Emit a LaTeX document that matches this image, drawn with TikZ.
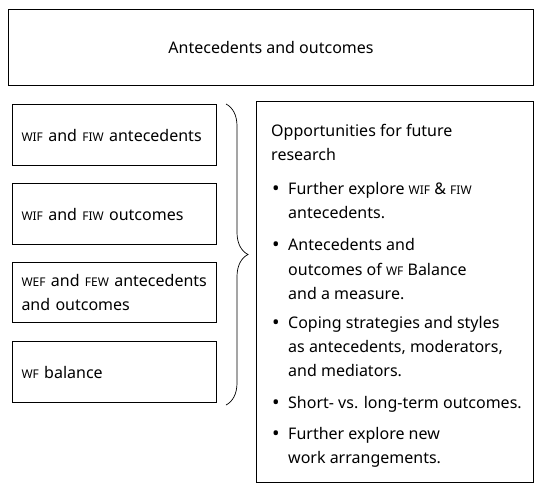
\documentclass[tikz,border=0pt]{standalone}
\usepackage{fontspec}
\setmainfont{Noto Sans}
\usetikzlibrary{decorations.pathreplacing,calc}
\newcommand\smc[1]{{\fontsize{12}{12}\selectfont #1}}
\hyphenpenalty=10000
\begin{document}
\begin{tikzpicture}[x=1pt,y=-1pt,
  box/.style={draw,line width=1pt,inner sep=0pt},
  lbox/.style={box,anchor=north west,minimum width=204pt,text width=186pt,
     inner xsep=9pt,align=left,font=\fontsize{16}{24}\selectfont},
  ln/.style={inner sep=0pt,anchor=base west,font=\fontsize{16}{24}\selectfont},
  bul/.style={inner sep=0pt,anchor=base west,font=\fontsize{20}{24}\selectfont},
  bracestyle/.style={decorate,decoration={brace,amplitude=22pt},line width=0.7pt}]
\useasboundingbox (0,0) rectangle (547,498);
\fill[white] (0,0) rectangle (547,498);
% top box
\node[box,anchor=north west,minimum width=525pt,minimum height=76.5pt,
      font=\fontsize{16}{24}\selectfont] (top) at (8,8.5) {Antecedents and outcomes};
% left boxes
\node[lbox,minimum height=61pt] (b1) at (12,104) {\smc{WIF} and \smc{FIW} antecedents};
\node[lbox,minimum height=61pt] (b2) at (12,183) {\smc{WIF} and \smc{FIW} outcomes};
\node[lbox,minimum height=60pt] (b3) at (12,262) {\smc{WEF} and \smc{FEW} antecedents\\and outcomes};
\node[lbox,minimum height=61pt] (b4) at (12,341) {\smc{WF} balance};
% brace
\coordinate (bt) at ($(b1.north east)+(9,0)$);
\coordinate (bb) at ($(b4.south east)+(9,2)$);
\draw[bracestyle] (bt) -- (bb);
% right box
\node[box,anchor=north west,minimum width=277pt,minimum height=381pt] (rb) at (256,101) {};
\node[ln] (h1) at (271,136) {Opportunities for future};
\node[ln] (h2) at (271,160) {research};
\node[bul] (p1) at (272,195) {•};
\node[ln] (t1) at (288,194) {Further explore \smc{WIF} \& \smc{FIW}};
\node[ln] (t2) at (288,218) {antecedents.};
\node[bul] (p2) at (272,251) {•};
\node[ln] (t3) at (288,250) {Antecedents and};
\node[ln] (t4) at (288,275) {outcomes of \smc{WF} Balance};
\node[ln] (t5) at (288,299) {and a measure.};
\node[bul] (p3) at (272,329) {•};
\node[ln] (t6) at (288,328) {Coping strategies and styles};
\node[ln] (t7) at (288,352) {as antecedents, moderators,};
\node[ln] (t8) at (288,376) {and mediators.};
\node[bul] (p4) at (272,409) {•};
\node[ln] (t9) at (288,408) {Short- vs. long-term outcomes.};
\node[bul] (p5) at (272,440) {•};
\node[ln] (t10) at (288,439) {Further explore new};
\node[ln] (t11) at (288,463) {work arrangements.};
\end{tikzpicture}
\end{document}
